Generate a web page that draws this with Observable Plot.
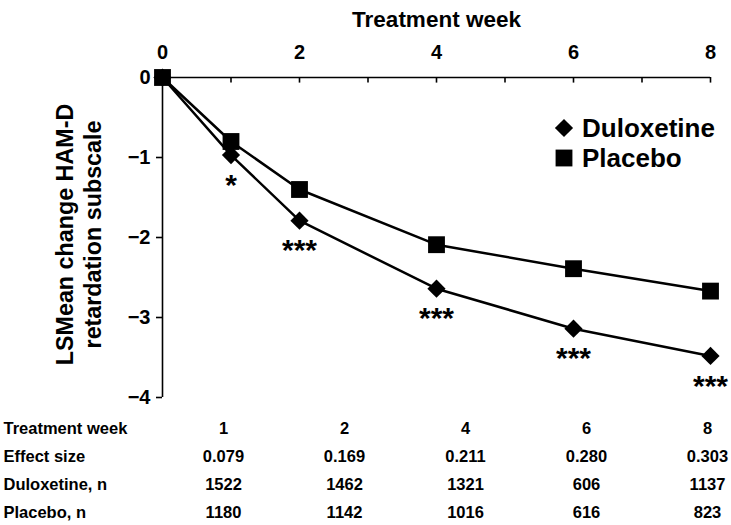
<!DOCTYPE html>
<html>
<head>
<meta charset="utf-8">
<script src="https://cdn.jsdelivr.net/npm/d3@7"></script>
<script src="https://cdn.jsdelivr.net/npm/@observablehq/plot@0.6"></script>
<style>
  html, body { margin: 0; padding: 0; background: #fff; }
  #wrap { position: relative; width: 731px; height: 525px; background: #fff; font-family: "Liberation Sans", Arial, sans-serif; font-weight: bold; }
  #legend { position: absolute; left: 550px; top: 113px; font-size: 26px; color: #000; }
  #legend .item { display: flex; align-items: center; height: 30px; }
  #legend svg { width: 28px; height: 26px; margin-right: 4px; }
  #table { position: absolute; left: 0; top: 412px; }
</style>
</head>
<body>
<div id="wrap">
  <div id="chart"></div>
  <div id="legend"></div>
  <div id="table"></div>
</div>
<script>
// ---- data ----
const weeks = [0, 1, 2, 4, 6, 8];
const duloxetine = [0, -0.97, -1.79, -2.64, -3.14, -3.48];
const placebo = [0, -0.80, -1.40, -2.09, -2.39, -2.67];
const significance = ["", "*", "***", "***", "***", "***"];
const xTicks = [0, 2, 4, 6, 8];
const yTicks = [0, -1, -2, -3, -4];
const seriesNames = ["Duloxetine", "Placebo"];
const seriesSymbols = ["diamond2", "square"];

const tableWeeks = ["1", "2", "4", "6", "8"];
const rowLabels = ["Treatment week", "Effect size", "Duloxetine, n", "Placebo, n"];
const effectSize = ["0.079", "0.169", "0.211", "0.280", "0.303"];
const duloxetineN = [1522, 1462, 1321, 606, 1137];
const placeboN = [1180, 1142, 1016, 616, 823];

// ---- build rows ----
const rows = [];
weeks.forEach((w, i) => {
  rows.push({series: "Duloxetine", week: w, value: duloxetine[i], sig: significance[i]});
  rows.push({series: "Placebo", week: w, value: placebo[i], sig: ""});
});
const dul = rows.filter(d => d.series === "Duloxetine");
const pla = rows.filter(d => d.series === "Placebo");

const font = "'Liberation Sans', Arial, sans-serif";

const chart = Plot.plot({
  width: 731,
  height: 412,
  marginTop: 77,
  marginBottom: 15,
  marginLeft: 162,
  marginRight: 21,
  x: {domain: [0, 8]},
  y: {domain: [-4, 0]},
  symbol: {domain: seriesNames, range: seriesSymbols},
  style: {fontFamily: font, fontWeight: "bold", color: "#000", background: "#fff", overflow: "visible"},
  marks: [
    Plot.ruleY([0], {stroke: "#000", strokeWidth: 1.6}),
    Plot.ruleX([0], {stroke: "#000", strokeWidth: 1.6}),
    Plot.ruleX(d3.range(1, 9), {x: d => d, y1: 0, y2: -0.07, stroke: "#000", strokeWidth: 1.6}),
    Plot.axisX({anchor: "top", ticks: xTicks, tickSize: 0, tickPadding: 19, fontSize: 20, label: null}),
    Plot.axisY({anchor: "left", ticks: yTicks, tickSize: 6, tickPadding: 6, fontSize: 20, label: null, strokeWidth: 1.6, tickFormat: d3.format("d")}),
    Plot.text(["Treatment week"], {frameAnchor: "top", dy: -66, fontSize: 22.5, fontWeight: "bold"}),
    Plot.text(["LSMean change HAM-D\nretardation subscale"], {frameAnchor: "left", textAnchor: "middle", dx: -84, dy: -3, rotate: -90, fontSize: 23.3, fontWeight: "bold", lineHeight: 1.2}),
    Plot.line(pla, {x: "week", y: "value", stroke: "#000", strokeWidth: 2.5}),
    Plot.line(dul, {x: "week", y: "value", stroke: "#000", strokeWidth: 2.5}),
    Plot.dot(pla, {x: "week", y: "value", symbol: "series", r: 9.5, fill: "#000", stroke: "none"}),
    Plot.dot(dul, {x: "week", y: "value", symbol: "series", r: 8.2, fill: "#000", stroke: "none"}),
    Plot.text(dul.filter(d => d.sig), {x: "week", y: "value", text: "sig", dy: 30, fontSize: 30, fontWeight: "bold"})
  ]
});
document.getElementById("chart").appendChild(chart);

// ---- legend ----
const legend = document.getElementById("legend");
seriesNames.forEach((name, i) => {
  const item = document.createElement("div");
  item.className = "item";
  const sym = d3.symbol(seriesSymbols[i] === "square" ? d3.symbolSquare : d3.symbolDiamond2, (i === 1 ? 9.5 : 8.2) ** 2 * Math.PI)();
  item.innerHTML = `<svg viewBox="-14 -13 28 26"><path d="${sym}" fill="#000"/></svg><span>${name}</span>`;
  legend.appendChild(item);
});

// ---- table ----
const cells = [];
tableWeeks.forEach((w, i) => {
  cells.push({row: rowLabels[0], col: w, text: w});
  cells.push({row: rowLabels[1], col: w, text: effectSize[i]});
  cells.push({row: rowLabels[2], col: w, text: String(duloxetineN[i])});
  cells.push({row: rowLabels[3], col: w, text: String(placeboN[i])});
});

const table = Plot.plot({
  width: 731,
  height: 113,
  margin: 0,
  x: {type: "point", domain: tableWeeks, range: [223, 707], padding: 0, axis: null},
  y: {type: "point", domain: rowLabels, range: [15, 100], padding: 0, axis: null},
  style: {fontFamily: font, fontWeight: "bold", color: "#000", background: "#fff"},
  marks: [
    Plot.text(rowLabels, {y: d => d, text: d => d, frameAnchor: "left", textAnchor: "start", dx: 3, fontSize: 16.5, fontWeight: "bold"}),
    Plot.text(cells, {x: "col", y: "row", text: "text", fontSize: 16.5, fontWeight: "bold"})
  ]
});
document.getElementById("table").appendChild(table);
</script>
</body>
</html>
